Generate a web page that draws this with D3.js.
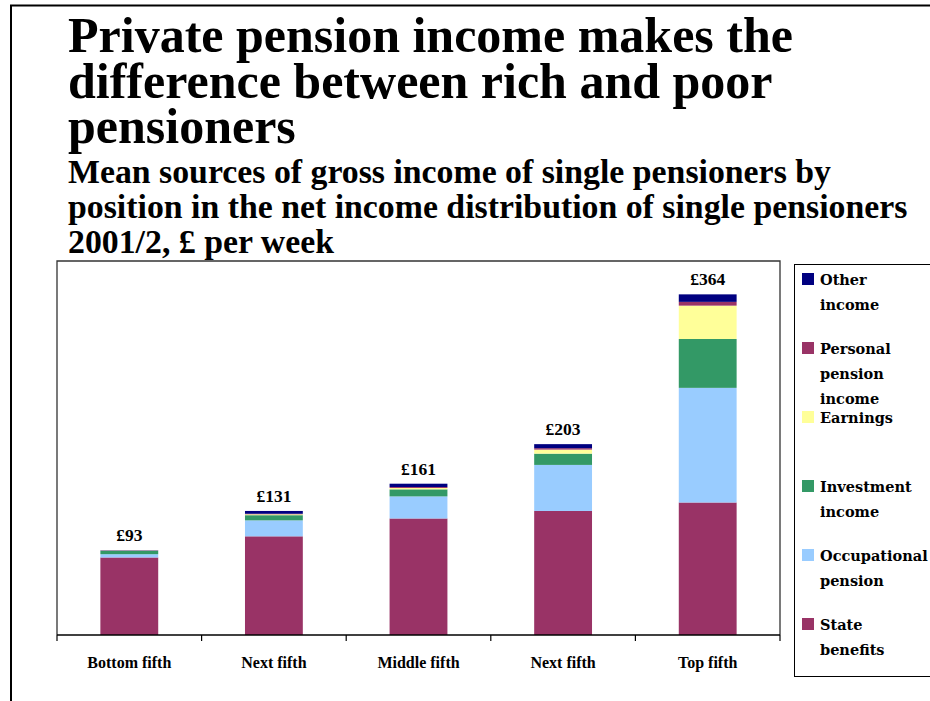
<!DOCTYPE html>
<html><head><meta charset="utf-8">
<script src="https://cdn.jsdelivr.net/npm/d3@7"></script>
<style>body{margin:0;background:#fff}svg{display:block}</style></head>
<body><svg id="c" width="930" height="701"></svg>
<script>
const titleLines = ["Private pension income makes the", "difference between rich and poor", "pensioners"];
const subtitleLines = ["Mean sources of gross income of single pensioners by", "position in the net income distribution of single pensioners", "2001/2, £ per week"];
const categories = ["Bottom fifth", "Next fifth", "Middle fifth", "Next fifth", "Top fifth"];
const stateBenefits   = [82.5, 105, 124, 132, 141];
const occupational    = [3.5, 17, 23.5, 49, 122];
const investment      = [3.5, 5.5, 7.5, 12, 52];
const earnings        = [0.3, 1, 1.5, 4.3, 35.5];
const personalPension = [0.2, 0.5, 1, 1.5, 4];
const otherIncome     = [0.3, 3, 3.5, 4.3, 8];
const totalLabels = ["£93", "£131", "£161", "£203", "£364"];
const seriesNames = ["State benefits", "Occupational pension", "Investment income", "Earnings", "Personal pension income", "Other income"];
const seriesColors = ["#993366", "#99CCFF", "#339966", "#FFFF99", "#993366", "#000080"];
const legendLines = [["Other", "income"], ["Personal", "pension", "income"], ["Earnings"], ["Investment", "income"], ["Occupational", "pension"], ["State", "benefits"]];

const seriesValues = [stateBenefits, occupational, investment, earnings, personalPension, otherIncome];
const table = categories.map((c, i) => {
  const row = {idx: i, cat: c};
  seriesNames.forEach((s, k) => row[s] = seriesValues[k][i]);
  return row;
});

const svg = d3.select("#c");
const serif = "'Liberation Serif', 'Times New Roman', serif";
const serif2 = "'DejaVu Serif', serif";

// outer frame
svg.append("path").attr("d", "M11,701 V5.5 H930").attr("fill", "none").attr("stroke", "#000").attr("stroke-width", 2);

// titles
svg.append("g").selectAll("text").data(titleLines).join("text")
  .attr("x", 68).attr("y", (d, i) => 52 + i * 45.5)
  .attr("font-family", serif).attr("font-weight", "bold").attr("font-size", 50)
  .text(d => d);
svg.append("g").selectAll("text").data(subtitleLines).join("text")
  .attr("x", 68).attr("y", (d, i) => 183 + i * 35)
  .attr("font-family", serif).attr("font-weight", "bold").attr("font-size", 33.8)
  .text(d => d);

// plot
const L = 57, R = 780, T = 261, B = 635;
const x = d3.scaleBand().domain(d3.range(categories.length)).range([L, R]).paddingInner(0.6).paddingOuter(0.3);
const y = d3.scaleLinear().domain([0, 398]).range([B, T]);

svg.append("path").attr("d", `M${L},${B} V${T} H${R} V${B}`).attr("fill", "none").attr("stroke", "#333").attr("stroke-width", 1.3);

const stack = d3.stack().keys(seriesNames)(table);
svg.append("g").selectAll("g").data(stack).join("g")
  .attr("fill", (d, i) => seriesColors[i])
  .selectAll("rect").data(d => d).join("rect")
  .attr("x", d => x(d.data.idx))
  .attr("width", x.bandwidth())
  .attr("y", d => y(d[1]))
  .attr("height", d => y(d[0]) - y(d[1]));

// total labels
const tops = table.map(r => d3.sum(seriesNames, s => r[s]));
svg.append("g").selectAll("text").data(totalLabels).join("text")
  .attr("x", (d, i) => x(i) + x.bandwidth() / 2)
  .attr("y", (d, i) => y(tops[i]) - 9)
  .attr("text-anchor", "middle")
  .attr("font-family", serif).attr("font-weight", "bold").attr("font-size", 17.5)
  .text(d => d);

// x axis
const bandStep = (R - L) / categories.length;
const xAxisG = svg.append("g");
xAxisG.append("line").attr("x1", L).attr("x2", R).attr("y1", B).attr("y2", B).attr("stroke", "#000").attr("stroke-width", 1.5);
xAxisG.selectAll("line.tick").data(d3.range(categories.length + 1)).join("line")
  .attr("class", "tick")
  .attr("x1", i => L + i * bandStep).attr("x2", i => L + i * bandStep)
  .attr("y1", B).attr("y2", B + 6).attr("stroke", "#000").attr("stroke-width", 1.2);
xAxisG.selectAll("text").data(categories).join("text")
  .attr("x", (d, i) => x(i) + x.bandwidth() / 2)
  .attr("y", 668)
  .attr("text-anchor", "middle")
  .attr("font-family", serif).attr("font-weight", "bold").attr("font-size", 16)
  .text(d => d);

// legend
const lg = svg.append("g");
lg.append("rect").attr("x", 794.5).attr("y", 264.5).attr("width", 150).attr("height", 412)
  .attr("fill", "#fff").attr("stroke", "#000").attr("stroke-width", 1);
const legendOrder = [5, 4, 3, 2, 1, 0];
const items = lg.selectAll("g.item").data(legendOrder).join("g").attr("class", "item")
  .attr("transform", (d, i) => `translate(802, ${273 + i * 69})`);
items.append("rect").attr("width", 12).attr("height", 12).attr("fill", d => seriesColors[d]);
items.each(function (d, i) {
  d3.select(this).selectAll("text").data(legendLines[i]).join("text")
    .attr("x", 18).attr("y", (t, j) => 12 + j * 25)
    .attr("font-family", serif2).attr("font-weight", "bold").attr("font-size", 14.5)
    .text(t => t);
});
</script>
</body></html>
